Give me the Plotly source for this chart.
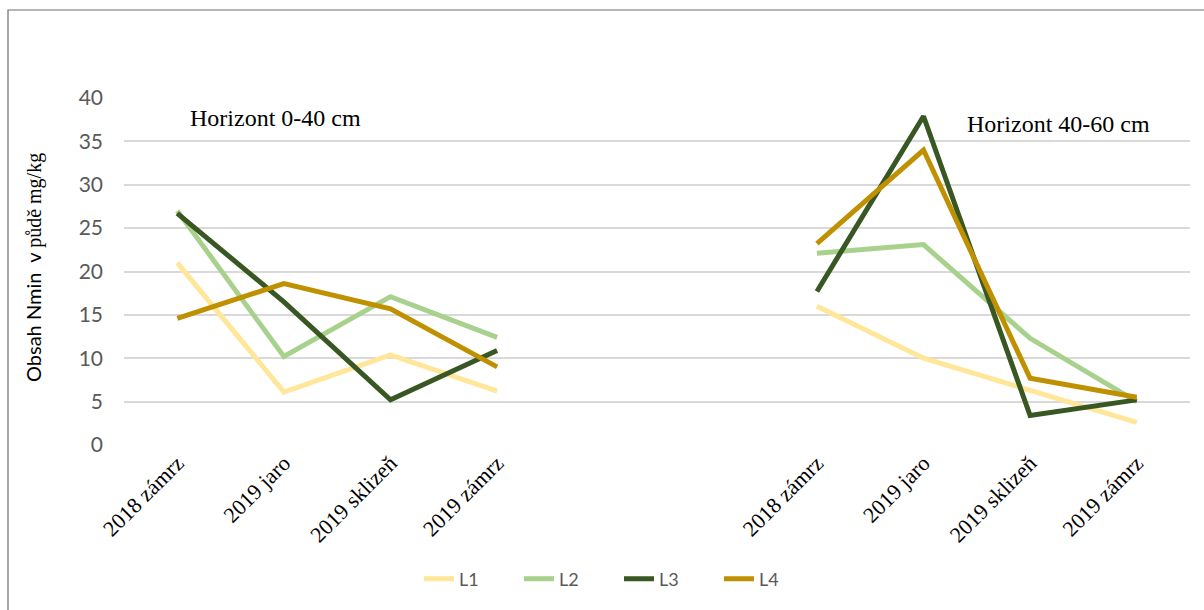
import plotly.graph_objects as go

# Data
tick_labels = ["2018 zámrz", "2019 jaro", "2019 sklizeň", "2019 zámrz", "", "",
               "2018 zámrz", "2019 jaro", "2019 sklizeň", "2019 zámrz"]
x_pos = list(range(10))
series_names = ["L1", "L2", "L3", "L4"]
L1 = [21.0, 6.1, 10.4, 6.2, None, None, 16.0, 10.0, 6.3, 2.6]
L2 = [27.0, 10.2, 17.1, 12.4, None, None, 22.1, 23.1, 12.3, 5.0]
L3 = [26.7, 16.5, 5.2, 10.9, None, None, 17.7, 37.9, 3.4, 5.2]
L4 = [14.6, 18.6, 15.7, 9.0, None, None, 23.2, 34.0, 7.7, 5.5]
series_values = [L1, L2, L3, L4]
colors = ["#FFE699", "#A9D18E", "#385723", "#BF9000"]
y_ticks = [0, 5, 10, 15, 20, 25, 30, 35, 40]

fig = go.Figure()
for name, vals, col in zip(series_names, series_values, colors):
    fig.add_trace(go.Scatter(x=x_pos, y=vals, name=name, mode="lines",
                             line=dict(color=col, width=5),
                             connectgaps=False))

L, T, B, R = 124, 98, 165, 14
W, H = 1204, 610
pw = W - L - R
ph = H - T - B

def px_x(px):
    return (px - L) / pw

def px_y(py):
    return (H - B - py) / ph

fig.update_layout(
    width=W, height=H,
    margin=dict(l=L, r=R, t=T, b=B),
    plot_bgcolor="white", paper_bgcolor="white",
    showlegend=True,
    legend=dict(orientation="h", x=px_x(619), xanchor="center", y=px_y(579), yanchor="middle",
                font=dict(family="Lato", size=18, color="#595959"),
                entrywidth=55, entrywidthmode="pixels", tracegroupgap=0),
    xaxis=dict(range=[-0.5, 9.5], tickmode="array", tickvals=x_pos, ticktext=tick_labels,
               tickangle=-45, showgrid=False, zeroline=False, showline=False, ticks="",
               tickfont=dict(family="Liberation Serif", size=22, color="#000000")),
    yaxis=dict(range=[0, 40], tickvals=y_ticks, showgrid=True, gridcolor="#D9D9D9",
               gridwidth=1.5, zeroline=False, showline=False, ticks="",
               ticklabelstandoff=20,
               tickfont=dict(family="Lato", size=21, color="#595959")),
    annotations=[
        dict(text="Horizont 0-40 cm", x=px_x(188), y=px_y(118), xref="paper", yref="paper",
             xanchor="left", yanchor="middle", showarrow=False,
             font=dict(family="Liberation Serif", size=24, color="#000000")),
        dict(text="Horizont 40-60 cm", x=px_x(965), y=px_y(124), xref="paper", yref="paper",
             xanchor="left", yanchor="middle", showarrow=False,
             font=dict(family="Liberation Serif", size=24, color="#000000")),
        dict(text="Obsah Nmin  v <span style='font-family:Liberation Serif'>půdě mg/kg</span>",
             x=px_x(33), y=px_y(268), xref="paper", yref="paper", textangle=-90,
             xanchor="center", yanchor="middle", showarrow=False,
             font=dict(family="Lato", size=20, color="#000000")),
    ],
    shapes=[dict(type="rect", xref="paper", yref="paper",
                 x0=px_x(8), x1=px_x(1215), y0=px_y(625), y1=px_y(10),
                 line=dict(color="#6E6E6E", width=1.2), fillcolor="rgba(0,0,0,0)", layer="below")],
)

fig.write_html("out.html")
